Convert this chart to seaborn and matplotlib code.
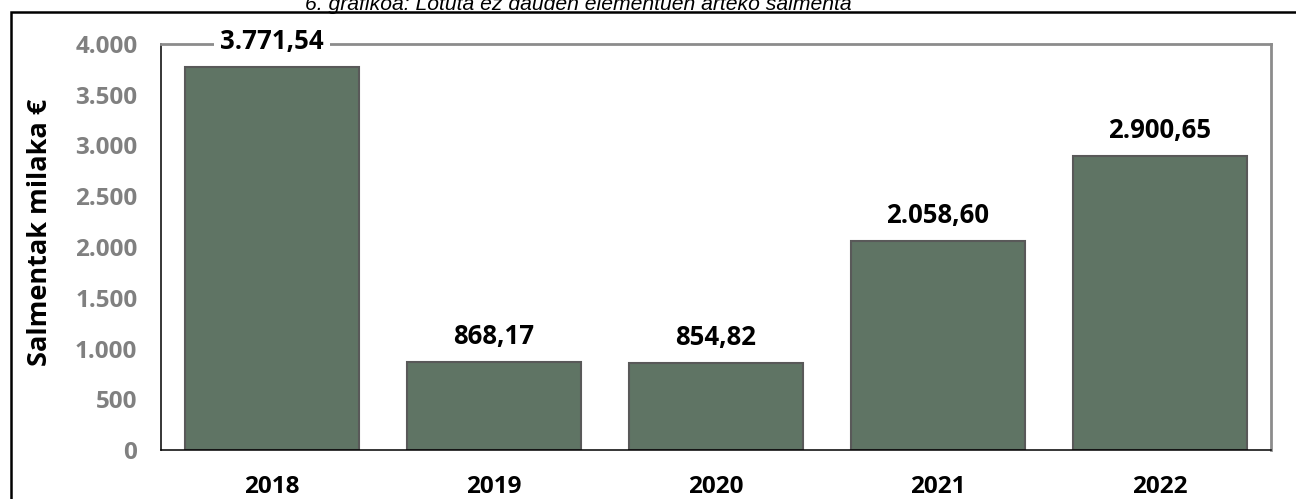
import matplotlib
matplotlib.use("Agg")
import matplotlib.pyplot as plt
import matplotlib.patches as mpatches
import seaborn as sns
import pandas as pd

# chart data
years = ["2018", "2019", "2020", "2021", "2022"]
sales = [3771.54, 868.17, 854.82, 2058.60, 2900.65]
value_labels = ["3.771,54", "868,17", "854,82", "2.058,60", "2.900,65"]
y_ticks = [0, 500, 1000, 1500, 2000, 2500, 3000, 3500, 4000]
y_tick_labels = ["0", "500", "1.000", "1.500", "2.000", "2.500", "3.000", "3.500", "4.000"]
title = "6. grafikoa: Lotuta ez dauden elementuen arteko salmenta"
y_title = "Salmentak milaka €"

sns.set_style("white")
plt.rcParams['font.family'] = ['Open Sans', 'DejaVu Sans']

df = pd.DataFrame({"year": years, "sales": sales})

W, H = 1296, 499
fig = plt.figure(figsize=(W / 100, H / 100), dpi=100)
ax = fig.add_axes([161 / W, 1 - 450 / H, (1271 - 161) / W, (450 - 44) / H])

sns.barplot(data=df, x="year", y="sales", ax=ax, color="#5F7464", saturation=1,
            width=0.78, edgecolor="#595959", linewidth=1.5)

ax.set_xlim(-0.5, 4.5)
ax.set_ylim(0, 4000)

# spines
for s in ["left", "bottom"]:
    ax.spines[s].set_color("black")
    ax.spines[s].set_linewidth(1.1)
for s in ["top", "right"]:
    ax.spines[s].set_color("#8C8C8C")
    ax.spines[s].set_linewidth(2)

# y axis
ax.set_yticks(y_ticks)
ax.set_yticklabels(y_tick_labels)
ax.tick_params(axis="y", direction="inout", length=12, width=1, color="black",
               pad=11, labelsize=17.5, labelcolor="#808080")
for t in ax.get_yticklabels():
    t.set_fontweight("bold")

# x axis: boundary ticks + labels at category centres
ax.set_xticks([-0.5, 0.5, 1.5, 2.5, 3.5, 4.5])
ax.set_xticklabels([])
ax.set_xticks(range(len(years)), minor=True)
ax.set_xticklabels(years, minor=True)
ax.tick_params(axis="x", which="major", direction="inout", length=12, width=1, color="black")
ax.tick_params(axis="x", which="minor", length=0, pad=18, labelsize=17.5, labelcolor="black")
for t in ax.get_xticklabels(minor=True):
    t.set_fontweight("bold")

ax.set_xlabel("")
ax.set_ylabel(y_title, fontsize=19.5, fontweight="bold", color="black")
ax.yaxis.set_label_coords(-0.097, 0.535)

# value labels
for i, (v, lab) in enumerate(zip(sales, value_labels)):
    ax.annotate(lab, xy=(i, v), xytext=(0, 8.5), textcoords="offset points",
                ha="center", va="bottom", fontsize=18.5, fontweight="bold", color="black",
                bbox=dict(boxstyle="square,pad=0.25", fc="white", ec="none"), zorder=5)

# outer frame
frame = mpatches.Rectangle((11 / W, -0.2), 2, 1 - 12 / H + 0.2, transform=fig.transFigure,
                           fill=False, ec="black", lw=1.8)
fig.patches.append(frame)

fig.text(305 / W, 1 - 10 / H, title, ha="left", va="baseline", fontsize=15.2,
         fontstyle="italic", family=["Liberation Sans", "DejaVu Sans"], color="black")

fig.savefig("out.png", dpi=100)
